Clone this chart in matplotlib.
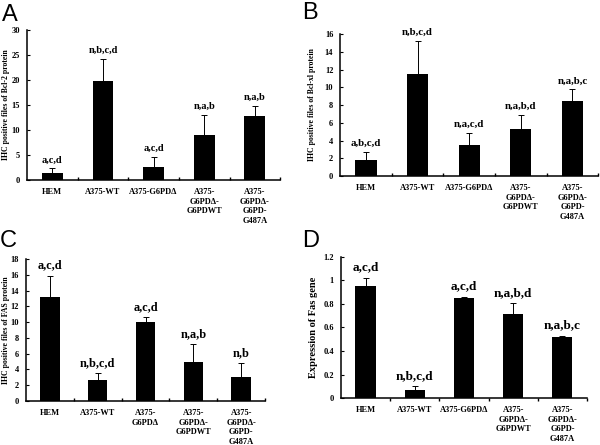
import matplotlib
matplotlib.use("Agg")
import matplotlib.pyplot as plt
import numpy as np

plt.rcParams['font.family'] = ['Liberation Serif', 'DejaVu Serif']
plt.rcParams['font.weight'] = 'bold'

labels_a = ["HEM", "A375-WT", "A375-G6PD\u0394", "A375-\nG6PD\u0394-\nG6PDWT", "A375-\nG6PD\u0394-\nG6PD-\nG487A"]
labels_c = ["HEM", "A375-WT", "A375-\nG6PD\u0394", "A375-\nG6PD\u0394-\nG6PDWT", "A375-\nG6PD\u0394-\nG6PD-\nG487A"]

vals_a = [1.4, 19.7, 2.5, 8.9, 12.7]
err_a = [0.9, 4.4, 2.1, 4.0, 2.1]
ann_a = ["a,c,d", "n,b,c,d", "a,c,d", "n,a,b", "n,a,b"]

vals_b = [1.8, 11.45, 3.5, 5.25, 8.45]
err_b = [0.95, 3.75, 1.3, 1.65, 1.3]
ann_b = ["a,b,c,d", "n,b,c,d", "n,a,c,d", "n,a,b,d", "n,a,b,c"]

vals_c = [13.2, 2.7, 10.0, 5.0, 3.0]
err_c = [2.7, 0.8, 0.6, 2.2, 1.8]
ann_c = ["a,c,d", "n,b,c,d", "a,c,d", "n,a,b", "n,b"]

vals_d = [0.955, 0.07, 0.851, 0.715, 0.522]
err_d = [0.068, 0.028, 0.011, 0.093, 0.008]
ann_d = ["a,c,d", "n,b,c,d", "a,c,d", "n,a,b,d", "n,a,b,c"]

fig = plt.figure(figsize=(6, 4.45), dpi=100)

panels = [
    dict(rect=[0.045, 0.5955, 0.422, 0.3375], vals=vals_a, err=err_a, ann=ann_a, labels=labels_a,
         ylim=(0, 30), yticks=np.arange(0, 31, 5),
         ylabel="IHC positive files of Bcl-2 protein", ylfs=5.6, ylx=-0.068, annfs=7.5, letter="A",
         lpos=(0.003, 0.99), xdir='in'),
    dict(rect=[0.567, 0.6045, 0.43, 0.319], vals=vals_b, err=err_b, ann=ann_b, labels=labels_a,
         ylim=(0, 16), yticks=np.arange(0, 17, 2),
         ylabel="IHC positive files of Bcl-xl protein", ylfs=5.6, ylx=-0.093, annfs=7.8, letter="B",
         lpos=(0.503, 0.995), xdir='in'),
    dict(rect=[0.0433, 0.0989, 0.3984, 0.3191], vals=vals_c, err=err_c, ann=ann_c, labels=labels_c,
         ylim=(0, 18), yticks=np.arange(0, 19, 2),
         ylabel="IHC positive files of FAS protein", ylfs=5.6, ylx=-0.068, annfs=8.8, letter="C",
         lpos=(0.0, 0.484), xdir='in'),
    dict(rect=[0.5683, 0.1056, 0.41, 0.3169], vals=vals_d, err=err_d, ann=ann_d, labels=labels_a,
         ylim=(0, 1.2), yticks=np.round(np.arange(0, 1.21, 0.2), 1),
         ylabel="Expression of Fas gene", ylfs=7.5, ylx=-0.094, annfs=9.5, letter="D",
         lpos=(0.503, 0.484), xdir='out'),
]

for p in panels:
    ax = fig.add_axes(p['rect'])
    x = np.arange(len(p['vals']))
    ax.bar(x, p['vals'], width=0.41, color='black', zorder=2)
    ax.errorbar(x, p['vals'], yerr=[np.zeros(len(p['err'])), p['err']], fmt='none',
                ecolor='black', elinewidth=0.7, capsize=2.2, capthick=0.7, zorder=1)
    for xi, v, e, t in zip(x, p['vals'], p['err'], p['ann']):
        ax.annotate(t, (xi, v + e), xytext=(0, 3), textcoords='offset points',
                    ha='center', va='bottom', fontsize=p['annfs'], fontweight='bold')
    ax.set_xlim(-0.5, len(p['vals']) - 0.5)
    ax.set_ylim(*p['ylim'])
    ax.set_yticks(p['yticks'])
    ax.set_yticklabels([f"{v:g}" for v in p['yticks']], fontsize=6, fontweight='bold')
    ax.set_xticks(x)
    ax.set_xticklabels(p['labels'], fontsize=6, fontweight='bold', linespacing=1.25)
    ax.set_xticks(np.arange(0.5, len(p['vals']) - 0.4, 1), minor=True)
    ax.tick_params(axis='x', which='major', length=0, pad=6)
    ax.tick_params(axis='x', which='minor', length=2, direction=p['xdir'], width=1)
    ax.tick_params(axis='y', length=2, direction='in', width=0.8, pad=5)
    for s in ['top', 'right']:
        ax.spines[s].set_visible(False)
    for s in ['left', 'bottom']:
        ax.spines[s].set_linewidth(1.1)
    ax.set_ylabel(p['ylabel'], fontsize=p['ylfs'], fontweight='bold')
    ax.yaxis.set_label_coords(p['ylx'], 0.5)
    fig.text(p['lpos'][0], p['lpos'][1], p['letter'], fontsize=17, family='Liberation Sans',
             fontweight='normal', ha='left', va='top')

fig.savefig("out.png", dpi=100)
